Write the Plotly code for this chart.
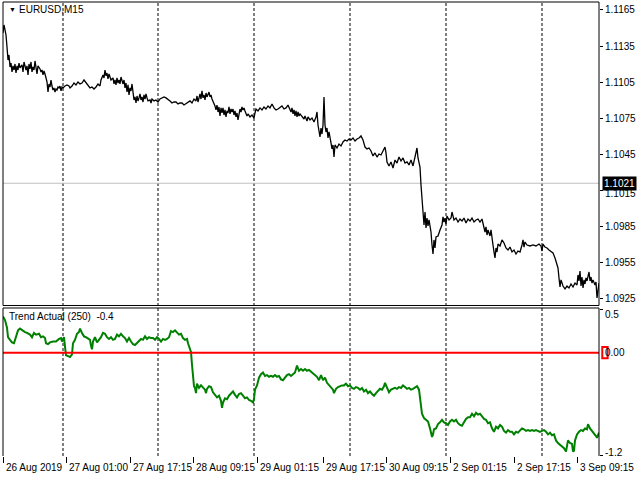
import plotly.graph_objects as go

# ---------------- data ----------------
bars = [3,4,5,6,7,8,9,10,11,12,13,14,15,16,17,18,19,20,22,23,24,26,27,28,29,30,31,32,33,34,35,36,37,38,40,41,42,43,44,45,
        47,48,49,50,51,52,53,54,55,56,57,58,59,60,61,62,63,65,67,69,70,72,74,76,78,80,82,84,86,88,90,92,94,96,98,100,
        101,103,104,105,106,107,108,109,110,111,113,114,115,116,117,118,119,120,121,123,124,125,126,127,128,129,130,131,132,133,134,135,136,137,138,139,140,
        141,142,143,144,145,146,147,148,150,151,152,154,156,158,160,162,164,166,168,170,172,174,176,178,180,182,184,186,188,190,
        192,194,196,197,198,199,200,201,202,203,204,205,206,207,208,209,210,211,212,213,214,215,216,217,218,219,220,
        221,222,223,224,225,226,227,228,229,230,231,232,233,234,235,236,237,238,239,240,241,242,243,244,245,246,247,248,250,
        252,254,255,256,258,260,262,264,266,268,270,272,274,276,278,280,282,284,286,288,290,291,292,293,294,295,296,297,298,299,300,
        302,304,305,307,308,310,312,314,316,317,318,319,320,321,322,323,324,325,326,327,328,329,330,331,332,333,334,335,337,339,341,343,345,
        347,349,351,353,355,357,359,361,362,363,365,367,369,371,373,375,377,379,381,383,385,386,387,389,391,393,395,397,399,401,403,405,
        407,409,411,413,415,416,417,418,419,420,421,422,423,424,425,426,427,428,429,430,431,432,433,434,435,436,438,440,442,443,444,445,446,447,
        449,451,452,454,456,458,460,462,464,466,468,470,472,474,476,478,480,482,483,484,485,486,487,488,490,491,492,493,494,495,496,497,498,
        500,502,504,506,508,510,512,514,516,518,520,522,523,524,525,527,530,533,536,539,541,542,543,545,547,549,551,553,555,557,558,559,560,
        561,562,563,565,567,569,571,573,575,577,578,579,580,581,582,583,584,585,586,587,588,589,590,591,592,593,595,596,597,598,599]

close = [1.11459,1.11525,1.11484,1.11442,1.11342,1.11234,1.11276,1.11176,1.11209,1.11135,1.11185,1.11151,1.11201,1.11126,1.11185,1.11151,1.11209,1.11168,1.11193,1.11135,1.11218,1.11151,1.11185,1.11110,1.11201,1.11160,1.11218,1.11135,1.11176,1.11151,1.11226,1.11168,1.11118,1.11185,1.11160,1.11135,1.11151,1.11110,1.11143,1.11118,
         1.11052,1.10968,1.11035,1.11010,1.11068,1.11018,1.10985,1.11002,1.10968,1.10993,1.10985,1.11010,1.11002,1.11018,1.10977,1.11010,1.11002,1.11018,1.11027,1.11018,1.11002,1.11018,1.11043,1.11027,1.11052,1.11035,1.11043,1.11068,1.11043,1.11018,1.11002,1.11010,1.10993,1.11010,1.11035,1.11018,
         1.11068,1.11110,1.11085,1.11151,1.11102,1.11126,1.11077,1.11118,1.11093,1.11068,1.11085,1.11035,1.11068,1.11027,1.11085,1.11043,1.11068,1.11035,1.11093,1.11035,1.11068,1.11002,1.11043,1.10968,1.11027,1.10944,1.11002,1.10977,1.11035,1.10944,1.10902,1.10927,1.10877,1.10935,1.10894,1.10919,1.10952,
         1.10902,1.10927,1.10885,1.10944,1.10910,1.10952,1.10919,1.10894,1.10902,1.10877,1.10910,1.10894,1.10902,1.10885,1.10910,1.10919,1.10927,1.10919,1.10910,1.10894,1.10877,1.10885,1.10885,1.10869,1.10877,1.10877,1.10860,1.10869,1.10885,1.10894,
         1.10877,1.10910,1.10894,1.10935,1.10885,1.10927,1.10952,1.10910,1.10977,1.10919,1.10944,1.10902,1.10960,1.10927,1.10944,1.10968,1.10927,1.10944,1.10910,1.10894,1.10869,1.10852,1.10819,1.10860,1.10802,1.10844,1.10769,
         1.10836,1.10794,1.10836,1.10777,1.10819,1.10761,1.10811,1.10794,1.10844,1.10786,1.10827,1.10802,1.10827,1.10777,1.10811,1.10761,1.10794,1.10736,1.10802,1.10827,1.10802,1.10844,1.10819,1.10836,1.10811,1.10794,1.10769,1.10786,1.10761,
         1.10777,1.10752,1.10794,1.10827,1.10811,1.10836,1.10819,1.10844,1.10827,1.10852,1.10836,1.10869,1.10836,1.10819,1.10827,1.10836,1.10852,1.10827,1.10836,1.10860,1.10827,1.10802,1.10836,1.10786,1.10819,1.10769,1.10811,1.10761,1.10802,1.10769,1.10786,
         1.10761,1.10744,1.10769,1.10727,1.10761,1.10736,1.10752,1.10719,1.10761,1.10802,1.10694,1.10653,1.10595,1.10669,1.10619,1.10694,1.10927,1.10694,1.10636,1.10669,1.10586,1.10636,1.10570,1.10545,1.10495,1.10528,1.10428,1.10528,1.10503,1.10536,1.10520,1.10553,1.10570,
         1.10561,1.10578,1.10570,1.10586,1.10561,1.10578,1.10586,1.10603,1.10586,1.10570,1.10511,1.10495,1.10503,1.10478,1.10437,1.10462,1.10428,1.10453,1.10445,1.10486,1.10511,1.10462,1.10387,1.10354,1.10387,1.10337,1.10403,1.10378,1.10428,1.10395,1.10420,1.10378,
         1.10387,1.10362,1.10403,1.10354,1.10420,1.10462,1.10503,1.10420,1.10387,1.10345,1.10196,1.10071,1.10013,1.09863,1.09971,1.09838,1.09921,1.09855,1.09905,1.09863,1.09805,1.09697,1.09622,1.09739,1.09672,1.09764,1.09772,1.09822,1.09863,1.09930,1.09888,1.09921,1.09871,1.09938,
         1.09905,1.09921,1.09971,1.09905,1.09921,1.09888,1.09913,1.09896,1.09921,1.09880,1.09913,1.09896,1.09921,1.09888,1.09905,1.09913,1.09888,1.09913,1.09871,1.09838,1.09805,1.09847,1.09780,1.09822,1.09772,1.09822,1.09739,1.09697,1.09639,1.09589,1.09672,1.09639,1.09705,
         1.09689,1.09739,1.09714,1.09672,1.09655,1.09680,1.09639,1.09655,1.09622,1.09647,1.09639,1.09697,1.09739,1.09680,1.09722,1.09697,1.09689,1.09697,1.09689,1.09705,1.09689,1.09647,1.09705,1.09680,1.09672,1.09655,1.09639,1.09631,1.09589,1.09539,1.09506,1.09423,1.09348,
         1.09407,1.09373,1.09356,1.09332,1.09356,1.09340,1.09373,1.09348,1.09381,1.09365,1.09448,1.09398,1.09481,1.09356,1.09431,1.09340,1.09407,1.09373,1.09423,1.09398,1.09439,1.09473,1.09398,1.09431,1.09381,1.09407,1.09365,1.09390,1.09257,1.09356,1.09381]

ind_bars = [3,5,7,8,10,12,14,15,17,18,20,22,25,27,30,32,34,36,39,41,43,45,46,48,50,53,56,59,61,62,64,65,66,68,70,72,73,75,77,79,80,82,84,86,88,90,91,92,93,95,97,99,
            101,103,105,107,109,111,113,115,117,119,121,123,125,127,129,131,133,135,137,139,141,143,145,147,149,151,153,155,157,159,161,163,165,167,169,171,173,175,177,179,181,183,185,187,188,189,191,192,193,194,195,196,197,199,
            201,203,205,206,207,209,211,213,215,217,219,221,222,223,225,227,229,231,233,235,237,239,241,243,245,247,249,251,253,254,255,257,259,261,263,265,267,269,271,273,275,277,279,281,283,285,287,289,291,293,295,297,299,
            301,303,305,307,309,311,313,315,317,319,321,323,325,327,329,331,333,334,336,338,340,342,344,346,348,350,352,354,356,358,360,362,364,366,368,370,372,374,376,378,380,382,384,385,387,389,391,393,395,397,399,
            401,403,405,407,409,411,413,415,417,419,420,421,422,424,426,428,430,431,432,433,434,436,438,440,442,444,446,448,450,452,454,456,458,460,462,464,466,468,470,472,474,476,478,480,482,484,486,488,490,492,494,496,498,
            500,502,504,506,508,510,512,514,516,518,520,522,524,526,528,530,532,534,536,538,540,542,544,546,548,550,552,554,556,558,560,562,564,566,567,568,570,572,573,574,575,577,579,581,583,585,587,588,590,592,594,596,597,599]

trend = [0.42,0.38,0.29,0.18,0.15,0.12,0.11,0.15,0.24,0.26,0.28,0.26,0.24,0.23,0.21,0.18,0.23,0.21,0.22,0.18,0.19,0.17,0.11,0.10,0.12,0.13,0.13,0.16,0.17,0.13,0.18,0.07,-0.03,-0.04,-0.05,-0.02,0.11,0.15,0.22,0.24,0.28,0.23,0.19,0.18,0.16,0.15,0.08,0.04,0.13,0.18,0.12,0.15,
         0.18,0.23,0.22,0.18,0.16,0.18,0.15,0.16,0.21,0.19,0.22,0.19,0.17,0.13,0.17,0.13,0.10,0.09,0.11,0.13,0.16,0.15,0.19,0.16,0.18,0.17,0.17,0.15,0.18,0.16,0.13,0.16,0.15,0.16,0.18,0.25,0.24,0.26,0.23,0.21,0.22,0.17,0.15,0.16,0.11,0.07,0.01,-0.14,-0.32,-0.39,-0.41,-0.47,-0.36,-0.41,
         -0.38,-0.40,-0.43,-0.47,-0.42,-0.39,-0.40,-0.46,-0.49,-0.52,-0.50,-0.56,-0.64,-0.58,-0.53,-0.54,-0.50,-0.48,-0.45,-0.49,-0.52,-0.48,-0.47,-0.50,-0.53,-0.52,-0.55,-0.56,-0.58,-0.54,-0.43,-0.38,-0.29,-0.25,-0.23,-0.27,-0.26,-0.28,-0.27,-0.28,-0.26,-0.28,-0.27,-0.31,-0.32,-0.29,-0.26,-0.25,-0.27,-0.25,-0.23,-0.15,-0.21,
         -0.19,-0.21,-0.19,-0.21,-0.20,-0.22,-0.25,-0.27,-0.28,-0.32,-0.26,-0.32,-0.29,-0.35,-0.38,-0.40,-0.43,-0.47,-0.42,-0.40,-0.39,-0.38,-0.38,-0.36,-0.39,-0.38,-0.41,-0.42,-0.40,-0.41,-0.43,-0.41,-0.45,-0.43,-0.47,-0.45,-0.48,-0.50,-0.47,-0.45,-0.42,-0.43,-0.39,-0.35,-0.41,-0.46,-0.43,-0.42,-0.41,-0.42,-0.40,
         -0.41,-0.38,-0.40,-0.42,-0.41,-0.43,-0.42,-0.40,-0.39,-0.43,-0.55,-0.67,-0.71,-0.76,-0.78,-0.80,-0.88,-0.92,-0.98,-0.95,-0.89,-0.88,-0.83,-0.81,-0.78,-0.81,-0.82,-0.84,-0.80,-0.78,-0.80,-0.78,-0.82,-0.84,-0.85,-0.81,-0.77,-0.75,-0.75,-0.71,-0.74,-0.70,-0.72,-0.71,-0.74,-0.77,-0.78,-0.82,-0.81,-0.88,-0.92,-0.86,-0.88,
         -0.84,-0.86,-0.91,-0.93,-0.90,-0.92,-0.92,-0.95,-0.92,-0.93,-0.91,-0.88,-0.89,-0.91,-0.90,-0.91,-0.90,-0.91,-0.90,-0.91,-0.92,-0.91,-0.90,-0.92,-0.95,-0.93,-0.96,-0.95,-1.02,-1.05,-1.07,-1.10,-1.11,-1.15,-1.08,-1.02,-1.05,-1.06,-1.15,-1.14,-1.02,-0.95,-0.92,-0.90,-0.91,-0.88,-0.89,-0.83,-0.88,-0.91,-0.93,-0.97,-0.99,-0.93]

price_ticks = [1.1165, 1.1135, 1.1105, 1.1075, 1.1045, 1.1015, 1.0985, 1.0955, 1.0925]
time_tick_bars = [3, 66, 130, 193, 257, 323, 386, 450, 514, 577]
time_tick_labels = ["26 Aug 2019", "27 Aug 01:00", "27 Aug 17:15", "28 Aug 09:15", "29 Aug 01:15",
                    "29 Aug 17:15", "30 Aug 09:15", "2 Sep 01:15", "2 Sep 17:15", "3 Sep 09:15"]
day_separators = [63, 158, 254, 350, 446, 542]
bid_price = 1.1021
zero_level = 0.0
ind_max_label, ind_min_label = 0.5, -1.2
symbol_title = "EURUSD,M15"
indicator_title = "Trend Actual (250)\u00a0\u00a0-0.4"

# ---------------- figure ----------------
FONT = "Liberation Sans, Arial, sans-serif"
TXT = dict(size=10, color="black", family=FONT)
fig = go.Figure()
fig.add_trace(go.Scatter(x=bars, y=close, mode="lines", line=dict(color="black", width=1.3),
                         xaxis="x2", yaxis="y2", showlegend=False, hoverinfo="skip"))
fig.add_trace(go.Scatter(x=ind_bars, y=trend, mode="lines", line=dict(color="#008000", width=2),
                         xaxis="x", yaxis="y", showlegend=False, hoverinfo="skip"))

shapes = []
for b in day_separators:
    shapes.append(dict(type="line", xref="x", yref="paper", x0=b, x1=b, y0=0, y1=1,
                       line=dict(color="black", width=1, dash="3px,2px"), layer="below"))
# bid line
shapes.append(dict(type="line", xref="x2 domain", yref="y2", x0=0, x1=1, y0=bid_price, y1=bid_price,
                   line=dict(color="#C0C0C0", width=1), layer="below"))
# zero level of indicator
shapes.append(dict(type="line", xref="x domain", yref="y", x0=0, x1=1, y0=zero_level, y1=zero_level,
                   line=dict(color="#FF0000", width=2), layer="above"))
# panel frames
shapes.append(dict(type="rect", xref="x2 domain", yref="y2 domain", x0=0, x1=1, y0=0, y1=1,
                   line=dict(color="black", width=1), layer="above"))
for (x0, x1, y0, y1) in [(0, 1, 1, 1), (0, 0, 0, 1), (1, 1, 0, 1)]:
    shapes.append(dict(type="line", xref="x domain", yref="y domain", x0=x0, x1=x1, y0=y0, y1=y1,
                       line=dict(color="black", width=1), layer="above"))
# red marker on the level label
shapes.append(dict(type="rect", xref="x domain", yref="y", x0=1.0055, x1=1.0145,
                   y0=zero_level - 0.065, y1=zero_level + 0.065,
                   line=dict(color="#FF0000", width=2), fillcolor="rgba(0,0,0,0)", layer="above"))

annotations = [
    dict(text="▼", xref="x2 domain", yref="y2 domain", x=0.006, y=0.975, xanchor="left", yanchor="middle",
         showarrow=False, font=dict(size=7, color="black", family=FONT)),
    dict(text=symbol_title, xref="x2 domain", yref="y2 domain", x=0.023, y=0.975, xanchor="left", yanchor="middle",
         showarrow=False, font=TXT),
    dict(text=indicator_title, xref="x domain", yref="y domain", x=0.006, y=0.94, xanchor="left", yanchor="middle",
         showarrow=False, font=TXT),
    dict(text=f"{bid_price:.4f}", xref="x2 domain", yref="y2", x=1.005, y=bid_price, xanchor="left", yanchor="middle",
         showarrow=False, bgcolor="black", borderpad=1, font=dict(size=10, color="white", family=FONT)),
    dict(text=f"{zero_level:.2f}", xref="x domain", yref="y", x=1.006, y=zero_level, xanchor="left", yanchor="middle",
         showarrow=False, font=TXT),
    dict(text=f"{ind_max_label:.1f}", xref="x domain", yref="y", x=1.006, y=ind_max_label, yshift=-5,
         xanchor="left", yanchor="middle", showarrow=False, font=TXT),
    dict(text=f"{ind_min_label:.1f}", xref="x domain", yref="y", x=1.006, y=ind_min_label, yshift=3,
         xanchor="left", yanchor="middle", showarrow=False, font=TXT),
]
# price axis labels as annotations (left aligned like the terminal)
for v in price_ticks:
    yshift = -3 if abs(v - 1.1015) < 1e-9 else 0
    annotations.append(dict(text=f"{v:.4f}", xref="x2 domain", yref="y2", x=1.006, y=v, yshift=yshift,
                            xanchor="left", yanchor="middle", showarrow=False, font=TXT))
# time axis labels to the right of their tick
for b, lab in zip(time_tick_bars, time_tick_labels):
    annotations.append(dict(text=lab, xref="x", yref="paper", x=b, y=0, yshift=-11, xshift=1,
                            xanchor="left", yanchor="middle", showarrow=False, font=TXT))

fig.update_layout(
    width=640, height=480,
    margin=dict(l=3, r=41, t=2, b=24, autoexpand=False),
    paper_bgcolor="white", plot_bgcolor="white",
    font=TXT,
    shapes=shapes, annotations=annotations, showlegend=False,
    xaxis=dict(domain=[0, 1], range=[3, 599], anchor="y", showgrid=False, zeroline=False,
               showline=False, ticks="outside", ticklen=6, tickcolor="black",
               tickvals=time_tick_bars, showticklabels=False, automargin=False),
    xaxis2=dict(domain=[0, 1], range=[3, 599], anchor="y2", matches="x", showgrid=False, zeroline=False,
                showline=False, showticklabels=False, ticks="", automargin=False),
    yaxis=dict(domain=[0, 0.326], range=[-1.2012, 0.5198], side="right", anchor="x",
               showgrid=False, zeroline=False, showline=False, ticks="outside", ticklen=3,
               tickcolor="black", tickvals=[ind_max_label, ind_min_label], showticklabels=False,
               automargin=False),
    yaxis2=dict(domain=[0.3315, 1], range=[1.091943, 1.11716], side="right", anchor="x2",
                showgrid=False, zeroline=False, showline=False, ticks="outside", ticklen=3,
                tickcolor="black", tickvals=price_ticks, showticklabels=False, automargin=False),
)

fig.write_html("out.html", config={"displayModeBar": False},
               post_script="document.body.style.margin='0';document.body.style.padding='0';")
